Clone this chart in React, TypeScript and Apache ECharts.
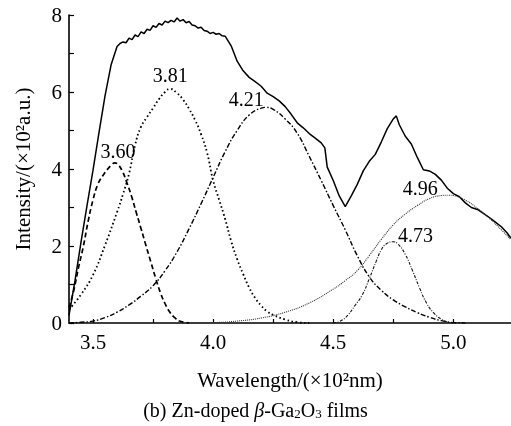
import React, { useEffect, useRef } from "react";
import * as echarts from "echarts";

const FONT = "Liberation Serif";

// Measured spectrum (solid)
const totalX = [
  3.4, 3.425, 3.45, 3.475, 3.5, 3.525, 3.55, 3.575,
  3.6, 3.6125, 3.625, 3.6375, 3.65, 3.6625, 3.675, 3.6875, 3.7, 3.7125, 3.725, 3.7375,
  3.75, 3.7625, 3.775, 3.7875, 3.8, 3.8125, 3.825, 3.8375, 3.85, 3.8625, 3.875, 3.8875,
  3.9, 3.9125, 3.925, 3.9375, 3.95, 3.9625, 3.975, 3.9875, 4.0, 4.0125, 4.025, 4.0375, 4.05,
  4.075, 4.1, 4.125, 4.15, 4.175, 4.2, 4.225, 4.25, 4.275, 4.3, 4.325, 4.35, 4.375, 4.4,
  4.425, 4.45, 4.465, 4.475, 4.5, 4.525, 4.55, 4.575, 4.6, 4.625, 4.65, 4.675, 4.7, 4.725,
  4.75, 4.7625, 4.775, 4.8, 4.825, 4.85, 4.875, 4.9, 4.925, 4.95, 4.975, 5.0, 5.025, 5.05,
  5.075, 5.1, 5.125, 5.15, 5.175, 5.2, 5.225, 5.24,
];
const totalY = [
  0.2, 1.1, 2.1, 3.05, 3.97, 4.95, 5.9, 6.7,
  7.18, 7.26, 7.3, 7.28, 7.4, 7.36, 7.48, 7.44, 7.56, 7.52, 7.63, 7.6,
  7.72, 7.68, 7.78, 7.74, 7.84, 7.8, 7.86, 7.82, 7.92, 7.84, 7.88, 7.8,
  7.83, 7.74, 7.72, 7.66, 7.68, 7.6, 7.58, 7.52, 7.55, 7.5, 7.52, 7.46, 7.45,
  7.2, 6.8, 6.55, 6.38, 6.27, 6.15, 5.97, 5.88, 5.77, 5.62, 5.42, 5.2, 5.07, 4.92,
  4.8, 4.68, 4.55, 4.05, 3.7, 3.3, 3.02, 3.3, 3.6, 3.95, 4.2, 4.38, 4.7, 5.05,
  5.3, 5.38, 5.15, 4.85, 4.65, 4.3, 3.98, 3.95, 3.86, 3.71, 3.5, 3.36, 3.28, 3.12,
  3.0, 2.95, 2.85, 2.74, 2.62, 2.5, 2.33, 2.2,
];

// Fitted peak 3.60 (dashed)
const p360X = [3.4, 3.42, 3.44, 3.46, 3.48, 3.5, 3.52, 3.54, 3.56, 3.58, 3.59, 3.6, 3.62, 3.64, 3.66, 3.68, 3.7, 3.72, 3.74, 3.76, 3.78, 3.8, 3.82, 3.84, 3.86, 3.88, 3.9];
const p360Y = [0.4, 0.85, 1.45, 2.0, 2.65, 3.2, 3.6, 3.82, 3.99, 4.12, 4.16, 4.14, 3.97, 3.66, 3.3, 2.87, 2.45, 2.02, 1.6, 1.18, 0.8, 0.5, 0.28, 0.14, 0.05, 0.02, 0];

// Fitted peak 3.81 (dotted)
const p381X = [3.4, 3.45, 3.5, 3.55, 3.6, 3.625, 3.65, 3.675, 3.7, 3.725, 3.75, 3.775, 3.8, 3.82, 3.85, 3.875, 3.9, 3.925, 3.95, 3.975, 4.0, 4.025, 4.05, 4.075, 4.1, 4.125, 4.15, 4.175, 4.2, 4.225, 4.25, 4.3, 4.35, 4.4];
const p381Y = [0.35, 0.74, 1.25, 2.02, 2.88, 3.35, 3.88, 4.62, 5.1, 5.35, 5.58, 5.82, 6.0, 6.08, 5.97, 5.8, 5.56, 5.27, 4.9, 4.42, 3.7, 3.2, 2.7, 2.13, 1.66, 1.27, 0.92, 0.65, 0.45, 0.3, 0.21, 0.09, 0.02, 0];

// Fitted peak 4.21 (dash-dot)
const p421X = [3.4, 3.45, 3.5, 3.55, 3.6, 3.65, 3.7, 3.75, 3.8, 3.85, 3.9, 3.95, 4.0, 4.05, 4.1, 4.15, 4.2, 4.22, 4.25, 4.3, 4.35, 4.4, 4.45, 4.5, 4.55, 4.6, 4.65, 4.7, 4.75, 4.8, 4.85, 4.9, 4.95, 5.0, 5.05];
const p421Y = [0, 0.02, 0.05, 0.14, 0.28, 0.47, 0.7, 0.97, 1.36, 1.85, 2.45, 3.1, 3.78, 4.45, 5.0, 5.4, 5.58, 5.6, 5.55, 5.3, 4.93, 4.33, 3.7, 3.05, 2.42, 1.75, 1.2, 0.85, 0.6, 0.42, 0.27, 0.15, 0.06, 0.01, 0];

// Fitted peak 4.73 (thin dash-dot)
const p473X = [4.5, 4.53, 4.56, 4.59, 4.62, 4.65, 4.68, 4.7, 4.72, 4.75, 4.77, 4.8, 4.83, 4.86, 4.89, 4.92, 4.95, 4.98, 5.01];
const p473Y = [0, 0.05, 0.2, 0.45, 0.72, 1.15, 1.62, 1.9, 2.05, 2.11, 2.05, 1.78, 1.36, 0.9, 0.5, 0.25, 0.1, 0.02, 0];

// Fitted peak 4.96 (fine dotted)
const p496X = [3.9, 4.0, 4.1, 4.2, 4.3, 4.4, 4.5, 4.55, 4.6, 4.65, 4.7, 4.75, 4.8, 4.85, 4.9, 4.95, 4.98, 5.0, 5.05, 5.1, 5.15, 5.2, 5.24];
const p496Y = [0, 0.01, 0.05, 0.13, 0.28, 0.52, 0.88, 1.1, 1.36, 1.75, 2.17, 2.55, 2.83, 3.05, 3.23, 3.31, 3.32, 3.31, 3.19, 2.98, 2.72, 2.42, 2.16];

// Peak labels (text and anchor in data units)
const peakText = ["3.60", "3.81", "4.21", "4.96", "4.73"];
const peakLabelX = [3.604, 3.821, 4.1375, 4.8625, 4.842];
const peakLabelY = [4.47, 6.44, 5.82, 3.51, 2.29];

// Axis ticks
const xTickValues = [3.5, 3.75, 4.0, 4.25, 4.5, 4.75, 5.0];
const xLabelValues = [3.5, 4.0, 4.5, 5.0];

const pairs = (xs: number[], ys: number[]) => xs.map((x, i) => [x, ys[i]]);

export default function App() {
  const ref = useRef<HTMLDivElement>(null);
  useEffect(() => {
    if (!ref.current) return;
    const chart = echarts.init(ref.current, undefined, { renderer: "svg" });
    const lineSeries = (data: number[][], type: any, width: number, color: string, smooth: boolean) => ({
      type: "line",
      data,
      showSymbol: false,
      symbol: "none",
      smooth,
      lineStyle: { color, width, type },
      z: 2,
    });
    chart.setOption({
      animation: false,
      grid: { left: 69, right: 0, top: 15, bottom: 103, containLabel: false },
      xAxis: {
        type: "value",
        min: 3.4,
        max: 5.24,
        name: "Wavelength/(×10²nm)",
        nameLocation: "middle",
        nameGap: 46,
        nameTextStyle: { fontFamily: FONT, fontSize: 21, color: "#000" },
        axisLine: { show: true, onZero: false, lineStyle: { color: "#000", width: 1.6 } },
        axisTick: { show: true, inside: true, length: 4, customValues: xTickValues, lineStyle: { color: "#000", width: 1.2 } },
        axisLabel: {
          customValues: xLabelValues,
          formatter: (v: number) => v.toFixed(1),
          fontFamily: FONT,
          fontSize: 21,
          color: "#000",
          margin: 8,
        },
        splitLine: { show: false },
      },
      yAxis: {
        type: "value",
        min: 0,
        max: 8,
        interval: 1,
        name: "Intensity/(×10²a.u.)",
        nameLocation: "middle",
        nameGap: 36,
        nameTextStyle: { fontFamily: FONT, fontSize: 21, color: "#000" },
        axisLine: { show: true, lineStyle: { color: "#000", width: 1.6 } },
        axisTick: { show: true, inside: true, length: 5, lineStyle: { color: "#000", width: 1.2 } },
        axisLabel: {
          formatter: (v: number) => (v % 2 === 0 ? String(v) : ""),
          fontFamily: FONT,
          fontSize: 21,
          color: "#000",
          margin: 7,
        },
        splitLine: { show: false },
      },
      series: [
        lineSeries(pairs(totalX, totalY), "solid", 1.5, "#000", false),
        lineSeries(pairs(p360X, p360Y), [5, 3], 1.7, "#000", true),
        lineSeries(pairs(p381X, p381Y), [1.6, 2.6], 1.8, "#000", true),
        lineSeries(pairs(p421X, p421Y), [5, 2, 1.5, 2], 1.4, "#000", true),
        lineSeries(pairs(p473X, p473Y), [3, 1.5, 1, 1.5], 1.1, "#111", true),
        lineSeries(pairs(p496X, p496Y), [1, 1], 1.1, "#333", true),
        {
          type: "scatter",
          symbol: "circle",
          symbolSize: 0,
          itemStyle: { color: "#000" },
          data: peakText.map((t, i) => ({ name: t, value: [peakLabelX[i], peakLabelY[i]] })),
          label: {
            show: true,
            position: "inside",
            formatter: "{b}",
            fontFamily: FONT,
            fontSize: 20,
            color: "#000",
            textBorderWidth: 0,
            textBorderColor: "transparent",
            opacity: 1,
          },
          z: 5,
        },
      ],
      graphic: [
        {
          type: "text",
          left: "center",
          top: 400,
          style: {
            text: "(b) Zn-doped {i|β}-Ga{s|2}O{s|3} films",
            font: `20px "${FONT}"`,
            fill: "#000",
            rich: {
              i: { fontStyle: "italic", fontSize: 20, fontFamily: FONT },
              s: { fontSize: 13, fontFamily: FONT, verticalAlign: "bottom", padding: [7, 0, 0, 0] },
            },
          },
        },
      ],
    });
    return () => chart.dispose();
  }, []);
  return <div ref={ref} style={{ position: "fixed", left: 0, top: 0, width: 511, height: 426 }} />;
}
